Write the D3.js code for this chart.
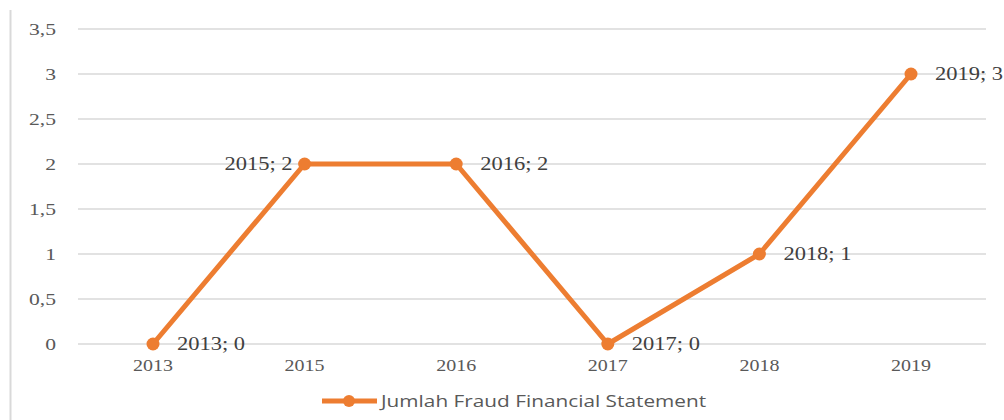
<!DOCTYPE html>
<html><head><meta charset="utf-8">
<script src="https://cdn.jsdelivr.net/npm/d3@7"></script>
<style>body{margin:0;background:#fff}svg{display:block}</style>
</head><body><svg id="c" width="1004" height="420"></svg>
<script>
const categories = ["2013","2015","2016","2017","2018","2019"];
const values = [0,2,2,0,1,3];
const labelSide = ["right","left","right","right","right","right"];
const yTicks = [0,0.5,1,1.5,2,2.5,3,3.5];
const seriesName = "Jumlah Fraud Financial Statement";

const svg = d3.select("#c");
const color = "#ED7D31";
const x = d3.scalePoint().domain(categories).range([153, 911]);
const y = d3.scaleLinear().domain([0,3.5]).range([344, 29]);
const fmt = d => String(d).replace(".", ",");
const SX = 1.25;

// left border
svg.append("line").attr("x1",10.5).attr("x2",10.5).attr("y1",10).attr("y2",420)
  .attr("stroke","#d9d9d9").attr("stroke-width",2);

// gridlines
svg.append("g").selectAll("line").data(yTicks).join("line")
  .attr("x1",78).attr("x2",986).attr("y1",d=>y(d)).attr("y2",d=>y(d))
  .attr("stroke","#d9d9d9").attr("stroke-width",1.5);

// y labels
svg.append("g").selectAll("text").data(yTicks).join("text")
  .attr("transform",d=>`translate(56,${y(d)}) scale(1.35,1)`).attr("dy","0.35em").attr("text-anchor","end")
  .attr("font-family","Liberation Serif, serif").attr("font-size",16).attr("fill","#595959")
  .text(fmt);

// x labels
svg.append("g").selectAll("text").data(categories).join("text")
  .attr("transform",d=>`translate(${x(d)},371) scale(${SX},1)`).attr("text-anchor","middle")
  .attr("font-family","Liberation Serif, serif").attr("font-size",16).attr("fill","#595959")
  .text(d=>d);

const pts = categories.map((c,i)=>({c, v:values[i], side:labelSide[i]}));
svg.append("path").datum(pts)
  .attr("d", d3.line().x(d=>x(d.c)).y(d=>y(d.v)))
  .attr("fill","none").attr("stroke",color).attr("stroke-width",5).attr("stroke-linejoin","round");
svg.append("g").selectAll("circle").data(pts).join("circle")
  .attr("cx",d=>x(d.c)).attr("cy",d=>y(d.v)).attr("r",6.5).attr("fill",color);

svg.append("g").selectAll("text").data(pts).join("text")
  .attr("transform",d=>`translate(${d.side==="right"? x(d.c)+24 : x(d.c)-12},${y(d.v)+6}) scale(${SX},1)`)
  .attr("text-anchor",d=>d.side==="right"?"start":"end")
  .attr("font-family","Liberation Serif, serif").attr("font-size",18).attr("fill","#404040")
  .text(d=>`${d.c}; ${d.v}`);

// legend
const lg = svg.append("g");
lg.append("line").attr("x1",322).attr("x2",377).attr("y1",401).attr("y2",401)
  .attr("stroke",color).attr("stroke-width",5);
lg.append("circle").attr("cx",349).attr("cy",401).attr("r",6).attr("fill",color);
lg.append("text").attr("transform","translate(381,407) scale(1.3,1)")
  .attr("font-family","Open Sans, sans-serif").attr("font-size",16).attr("fill","#595959")
  .text(seriesName);
</script></body></html>
